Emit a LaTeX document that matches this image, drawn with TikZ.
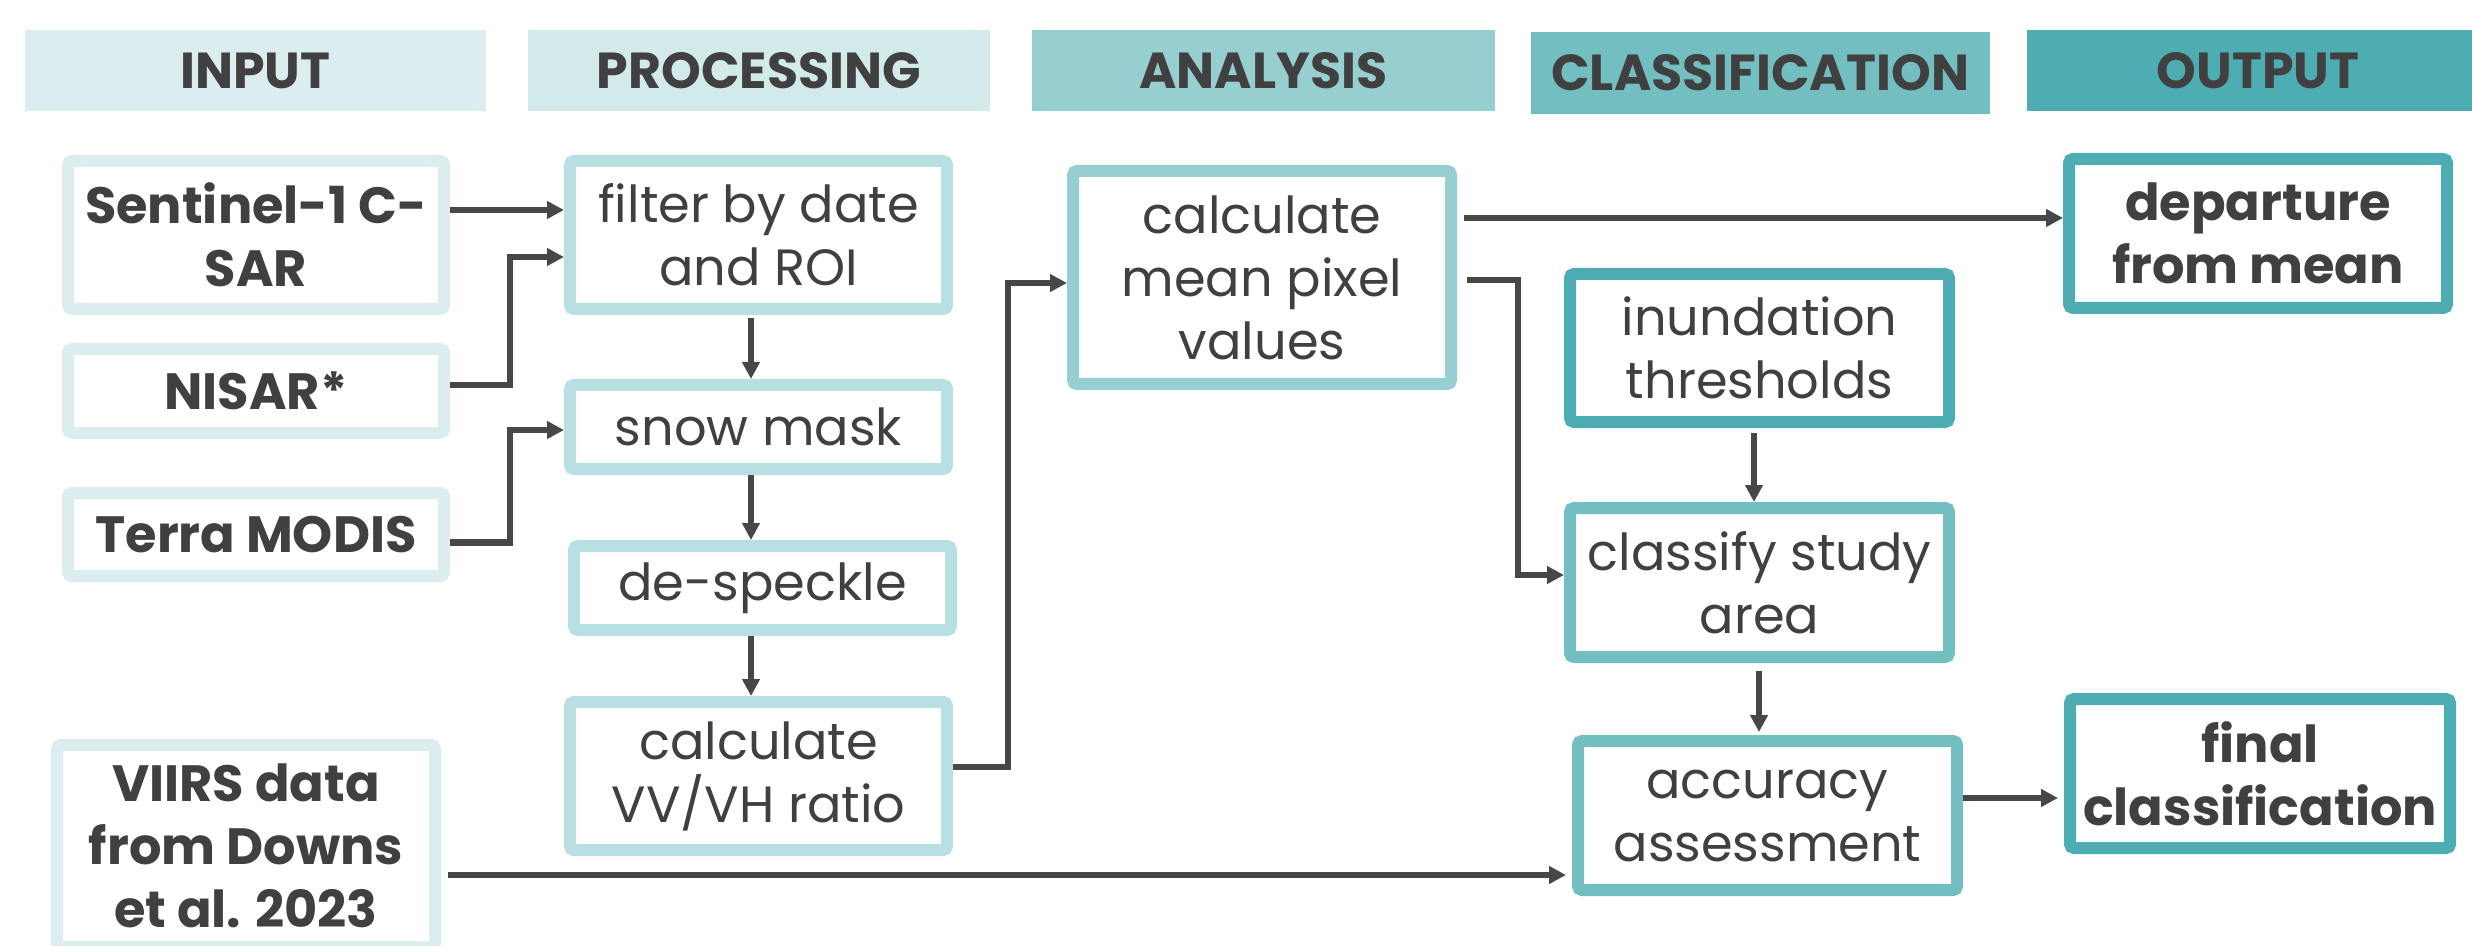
\documentclass[tikz,border=0pt]{standalone}
\usepackage{fontspec}
\setmainfont{Poppins}
\usetikzlibrary{arrows.meta}
\definecolor{cin}{HTML}{DBEDEF}
\definecolor{cproc}{HTML}{D3EAEB}
\definecolor{cprocb}{HTML}{B8E0E2}
\definecolor{cana}{HTML}{97CFD0}
\definecolor{ccls}{HTML}{73BEC1}
\definecolor{cout}{HTML}{4EADB2}
\definecolor{txt}{HTML}{404040}
\definecolor{arr}{HTML}{474747}
\tikzset{
  box/.style={draw=#1, line width=6pt, fill=white, rounded corners=2pt, align=center,
    text=txt, inner sep=0pt, font=\fontsize{25.5}{31.5}\selectfont},
  bbox/.style={box=#1, font=\bfseries\fontsize{25.5}{31.5}\selectfont},
  head/.style={fill=#1, text=txt, inner sep=0pt, minimum height=40.5pt,
    font=\bfseries\fontsize{25.3}{30}\selectfont},
  conn/.style={draw=arr, line width=3.2pt, -{Triangle[length=8.5pt,width=8.5pt]}}
}
\begin{document}
\begin{tikzpicture}[x=0.5pt,y=-0.5pt]
\useasboundingbox (0,0) rectangle (2472,946);
\clip (0,0) rectangle (2472,946);
% headers
\node[head=cin, minimum width=230.5pt] (hin) at (255.5,70.5) {INPUT};
\node[head=cproc, minimum width=231pt] (hproc) at (759,70.5) {PROCESSING};
\node[head=cana, minimum width=231.5pt] (hana) at (1263.5,70.5) {ANALYSIS};
\node[head=ccls, minimum width=229.5pt, minimum height=41pt] (hcls) at (1760.5,73) {CLASSIFICATION};
\node[head=cout, minimum width=231pt] (hout) at (2258,70.5) {OUTPUT};
% input
\node[bbox=cin, minimum width=188pt, minimum height=74pt] (sent) at (256,235) {Sentinel-1 C-\\SAR};
\node[bbox=cin, minimum width=188pt, minimum height=42pt] (nisar) at (256,391) {NISAR*};
\node[bbox=cin, minimum width=188pt, minimum height=41.5pt] (terra) at (256,534.5) {Terra MODIS};
\node[bbox=cin, minimum width=189pt, minimum height=101pt] (viirs) at (246,846) {VIIRS data\\from Downs\\et al. 2023};
% processing
\node[box=cprocb, minimum width=188.5pt, minimum height=74pt] (filter) at (758.5,235) {filter by date\\and ROI};
\node[box=cprocb, minimum width=188.5pt, minimum height=42pt] (snow) at (758.5,427) {snow mask};
\node[box=cprocb, minimum width=188.5pt, minimum height=42pt] (desp) at (762.5,588) {de-speckle};
\node[box=cprocb, minimum width=188.5pt, minimum height=74pt] (vv) at (758.5,776) {calculate\\VV/VH ratio};
% analysis
\node[box=cana, minimum width=189pt, minimum height=106.5pt] (mean) at (1262,277.5) {calculate\\mean pixel\\values};
% classification
\node[box=cout, minimum width=189.5pt, minimum height=74pt] (inund) at (1759.5,348) {inundation\\thresholds};
\node[box=ccls, minimum width=189.5pt, minimum height=74.5pt] (classify) at (1759.5,582.5) {classify study\\area};
\node[box=ccls, minimum width=189.5pt, minimum height=74.5pt] (acc) at (1767.5,815.5) {accuracy\\assessment};
% output
\node[bbox=cout, minimum width=189pt, minimum height=74.5pt] (depart) at (2258,233.5) {departure\\from mean};
\node[bbox=cout, minimum width=190pt, minimum height=74.5pt] (final) at (2260,773.5) {final\\classification};
% connectors
\draw[conn] ([yshift=12.5pt]sent.east) -- ([yshift=12.5pt]filter.west);
\draw[conn] ([yshift=3pt]nisar.east) -- ++(60,0) |- ([yshift=-11pt]filter.west);
\draw[conn] ([yshift=-4pt]terra.east) -- ++(60,0) |- ([yshift=-1.5pt]snow.west);
\draw[conn, shorten <=1.5pt] ([xshift=-3.75pt]filter.south) -- ([xshift=-3.75pt]snow.north);
\draw[conn] ([xshift=-3.75pt]snow.south) -- ([xshift=-5.75pt]desp.north);
\draw[conn] ([xshift=-5.75pt]desp.south) -- ([xshift=-3.75pt]vv.north);
\draw[conn] ([yshift=4.5pt]vv.east) -- ++(55,0) |- ([yshift=-2.75pt]mean.west);
\draw[conn, shorten <=3.5pt] ([yshift=29.75pt]mean.east) -- ([yshift=7.75pt]depart.west);
\draw[conn, shorten <=5pt] ([yshift=-1.25pt]mean.east) -- ++(61,0) |- ([yshift=3.75pt]classify.west);
\draw[conn, shorten <=2.5pt] ([xshift=-2.75pt]inund.south) -- ([xshift=-2.75pt]classify.north);
\draw[conn, shorten <=4pt, shorten >=1.5pt] ([xshift=-0.25pt]classify.south) -- ([xshift=-4.25pt]acc.north);
\draw[conn, shorten >=3pt] ([yshift=8.75pt]acc.east) -- ([yshift=-12.25pt]final.west);
\draw[conn, shorten <=3.5pt, shorten >=3pt] ([yshift=-14.5pt]viirs.east) -- ([yshift=-29.75pt]acc.west);
\end{tikzpicture}
\end{document}
